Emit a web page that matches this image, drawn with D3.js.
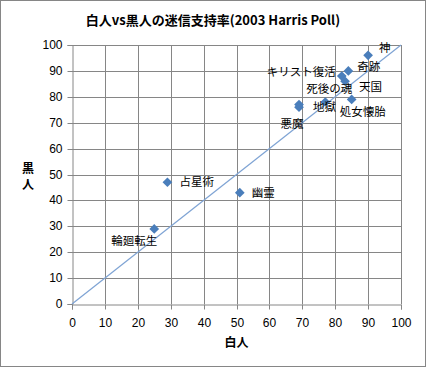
<!DOCTYPE html>
<html>
<head>
<meta charset="utf-8">
<title>白人vs黒人の迷信支持率</title>
<script src="https://d3js.org/d3.v7.min.js"></script>
<style>
body { margin: 0; background: #fff; }
svg { display: block; }
text { font-family: "Noto Sans CJK JP", "DejaVu Sans", sans-serif; }
.tick text { font-family: "Liberation Sans", Arial, sans-serif; }
</style>
</head>
<body>
<script>
// data
var beliefs = ["神", "奇跡", "キリスト復活", "天国", "死後の魂", "地獄", "悪魔", "処女懐胎", "占星術", "幽霊", "輪廻転生"];
var whites  = [90, 84, 82, 83, 77, 69, 69, 85, 29, 51, 25];
var blacks  = [96, 90, 88, 86, 78, 77, 76, 79, 47, 43, 29];
var tickValues = [0, 10, 20, 30, 40, 50, 60, 70, 80, 90, 100];

// label placement: [dx, dy, anchor]
var labelPos = [
  [11, -3, "start"], [9, 0, "start"], [-6, 0, "end"], [14, 10, "start"],
  [4, -9, "middle"], [14, 6, "start"], [-7, 21, "middle"], [-12, 17, "start"],
  [12, 4, "start"], [12, 4, "start"], [-20, 16, "middle"]
];

var W = 426, H = 367;
var margin = { top: 45, right: 25, bottom: 63, left: 72 };

var svg = d3.select("body").append("svg")
  .attr("width", W).attr("height", H);

svg.append("rect")
  .attr("x", 0.5).attr("y", 0.5)
  .attr("width", W - 1).attr("height", H - 1)
  .attr("fill", "#fff").attr("stroke", "#868686");

var x = d3.scaleLinear().domain([0, 100]).range([margin.left, W - margin.right]);
var y = d3.scaleLinear().domain([0, 100]).range([H - margin.bottom + 0, margin.top]);

// grid
svg.append("g").selectAll("line.v").data(tickValues.slice(1)).enter().append("line")
  .attr("x1", d => Math.round(x(d)) + 0.5).attr("x2", d => Math.round(x(d)) + 0.5)
  .attr("y1", y(0)).attr("y2", y(100))
  .attr("stroke", "#868686");
svg.append("g").selectAll("line.h").data(tickValues.slice(1)).enter().append("line")
  .attr("y1", d => Math.round(y(d)) + 0.5).attr("y2", d => Math.round(y(d)) + 0.5)
  .attr("x1", x(0)).attr("x2", x(100))
  .attr("stroke", "#868686");

// axes
var xAxis = svg.append("g")
  .attr("transform", "translate(0," + (Math.round(y(0)) + 0.5) + ")")
  .call(d3.axisBottom(x).tickValues(tickValues).tickSize(5).tickPadding(9));
var yAxis = svg.append("g")
  .attr("transform", "translate(" + (Math.round(x(0)) + 0.5) + ",0)")
  .call(d3.axisLeft(y).tickValues(tickValues).tickSize(5).tickPadding(5));
[xAxis, yAxis].forEach(function(a) {
  a.select(".domain").attr("stroke", "#868686");
  a.selectAll(".tick line").attr("stroke", "#868686");
  a.selectAll(".tick text").attr("font-size", 12).attr("fill", "#000");
});
xAxis.selectAll(".tick").attr("transform", d => "translate(" + (Math.round(x(d)) + 0.5) + ",0)");
yAxis.selectAll(".tick").attr("transform", d => "translate(0," + (Math.round(y(d)) + 0.5) + ")");

// y = x line
svg.append("line")
  .attr("x1", x(0)).attr("y1", y(0))
  .attr("x2", x(100)).attr("y2", y(100))
  .attr("stroke", "#7ea3d4").attr("stroke-width", 1.2);

var pts = beliefs.map(function(b, i) { return { name: b, w: whites[i], b: blacks[i], pos: labelPos[i] }; });

// diamonds
svg.append("g").selectAll("path").data(pts).enter().append("path")
  .attr("d", d3.symbol().type(d3.symbolDiamond2).size(60))
  .attr("transform", d => "translate(" + x(d.w) + "," + y(d.b) + ")")
  .attr("fill", "#4a7ebb");

// labels
svg.append("g").selectAll("text").data(pts).enter().append("text")
  .attr("x", d => x(d.w) + d.pos[0])
  .attr("y", d => y(d.b) + d.pos[1])
  .attr("text-anchor", d => d.pos[2])
  .attr("font-size", 11.5)
  .attr("fill", "#000")
  .text(d => d.name);

// titles
svg.append("text")
  .attr("x", 213).attr("y", 25)
  .attr("text-anchor", "middle")
  .attr("font-size", 13).attr("font-weight", "bold")
  .text("白人vs黒人の迷信支持率(2003 Harris Poll)");

svg.append("text")
  .attr("x", x(50)).attr("y", 347)
  .attr("text-anchor", "middle")
  .attr("font-size", 12).attr("font-weight", "bold")
  .text("白人");

svg.append("text")
  .attr("x", 28).attr("y", 173)
  .attr("text-anchor", "middle")
  .attr("font-size", 12).attr("font-weight", "bold")
  .text("黒");
svg.append("text")
  .attr("x", 28).attr("y", 189)
  .attr("text-anchor", "middle")
  .attr("font-size", 12).attr("font-weight", "bold")
  .text("人");
</script>
</body>
</html>
